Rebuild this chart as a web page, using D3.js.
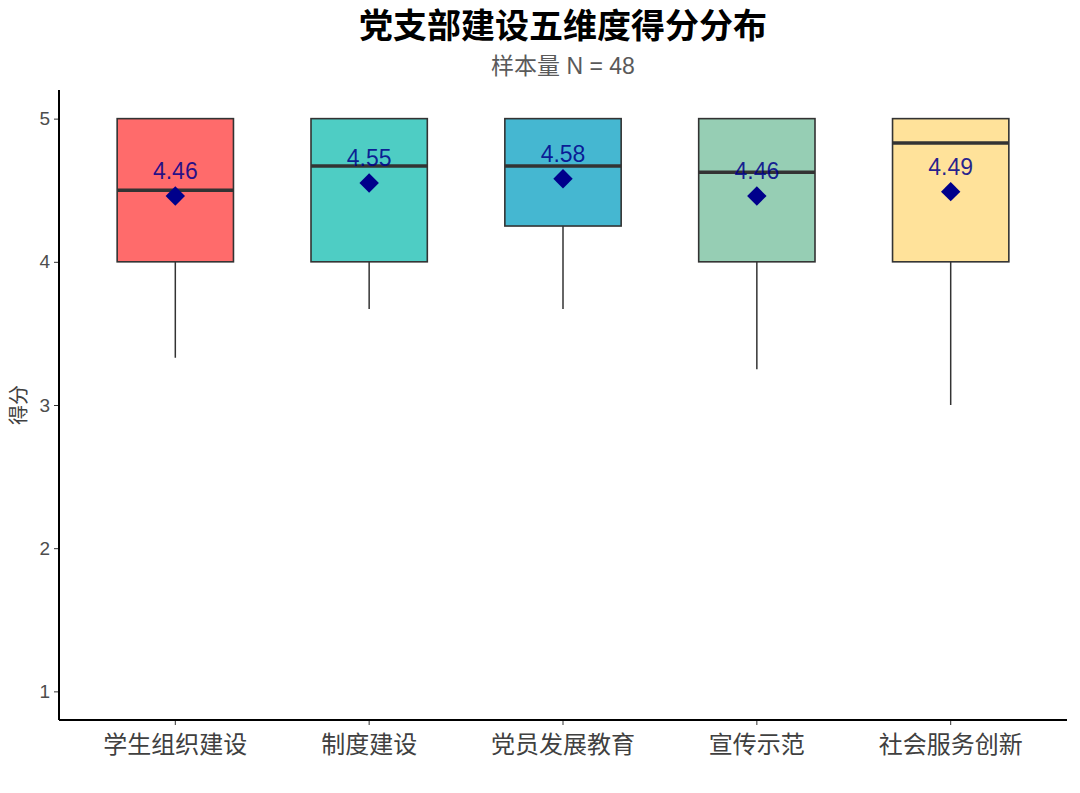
<!DOCTYPE html>
<html>
<head>
<meta charset="utf-8">
<script src="https://cdn.jsdelivr.net/npm/d3@7"></script>
<style>
  body { margin: 0; background: #fff; }
  svg { display: block; }
</style>
</head>
<body>
<svg id="chart" width="1080" height="793"></svg>
<script>
// data
var categories = ["学生组织建设", "制度建设", "党员发展教育", "宣传示范", "社会服务创新"];
var whiskerLow = [3.33, 3.67, 3.67, 3.25, 3.0];
var q1 = [4, 4, 4.25, 4, 4];
var medians = [4.5, 4.67, 4.67, 4.625, 4.83];
var q3 = [5, 5, 5, 5, 5];
var whiskerHigh = [5, 5, 5, 5, 5];
var means = [4.46, 4.55, 4.58, 4.46, 4.49];
var colors = ["#FF6B6B", "#4ECDC4", "#45B7D1", "#96CEB4", "#FFE29A"];
var yTicks = [1, 2, 3, 4, 5];

var svg = d3.select("#chart");
var margin = {left: 59, right: 13, top: 90, bottom: 73};
var width = 1080 - margin.left - margin.right;
var height = 793 - margin.top - margin.bottom;

var rows = categories.map(function(c, i) {
  return {cat: c, lo: whiskerLow[i], q1: q1[i], med: medians[i], q3: q3[i],
          hi: whiskerHigh[i], mean: means[i], color: colors[i]};
});

var x = d3.scaleBand()
    .domain(categories)
    .range([0, width])
    .paddingOuter(0.1)
    .paddingInner(0);
var y = d3.scaleLinear()
    .domain([0.8, 5.2])
    .range([height, 0]);

var g = svg.append("g")
    .attr("transform", "translate(" + margin.left + "," + margin.top + ")");

// title
svg.append("text")
    .attr("x", margin.left + width / 2)
    .attr("y", 38)
    .attr("text-anchor", "middle")
    .style("font-family", "'Noto Sans CJK SC', sans-serif")
    .style("font-weight", "bold")
    .style("font-size", "34px")
    .style("fill", "#000")
    .text("党支部建设五维度得分分布");
svg.append("text")
    .attr("x", margin.left + width / 2)
    .attr("y", 74)
    .attr("text-anchor", "middle")
    .style("font-family", "Arial, 'Liberation Sans', 'Noto Sans CJK SC', sans-serif")
    .style("font-size", "23px")
    .style("fill", "#5a5a5a")
    .text("样本量 N = 48");

// boxes
var boxW = x.bandwidth() * 0.6;
var box = g.selectAll(".box")
    .data(rows)
    .enter().append("g")
    .attr("class", "box")
    .attr("transform", function(d) { return "translate(" + (x(d.cat) + x.bandwidth() / 2) + ",0)"; });

box.append("line")
    .attr("x1", 0).attr("x2", 0)
    .attr("y1", function(d) { return y(d.lo); })
    .attr("y2", function(d) { return y(d.q1); })
    .attr("stroke", "#333").attr("stroke-width", 1.5);
box.append("line")
    .attr("x1", 0).attr("x2", 0)
    .attr("y1", function(d) { return y(d.hi); })
    .attr("y2", function(d) { return y(d.q3); })
    .attr("stroke", "#333").attr("stroke-width", 1.5);
box.append("rect")
    .attr("x", -boxW / 2)
    .attr("width", boxW)
    .attr("y", function(d) { return y(d.q3); })
    .attr("height", function(d) { return y(d.q1) - y(d.q3); })
    .attr("fill", function(d) { return d.color; })
    .attr("stroke", "#333")
    .attr("stroke-width", 1.6);
box.append("line")
    .attr("x1", -boxW / 2).attr("x2", boxW / 2)
    .attr("y1", function(d) { return y(d.med); })
    .attr("y2", function(d) { return y(d.med); })
    .attr("stroke", "#333").attr("stroke-width", 3.5);

// means
box.append("path")
    .attr("d", d3.symbol().type(d3.symbolDiamond2).size(240))
    .attr("transform", function(d) { return "translate(0," + y(d.mean) + ")"; })
    .attr("fill", "#00008B");
box.append("text")
    .attr("y", function(d) { return y(d.mean) - 17; })
    .attr("text-anchor", "middle")
    .style("font-family", "Arial, 'Liberation Sans', sans-serif")
    .style("font-size", "23px")
    .style("fill", "#00008B")
    .style("fill-opacity", 0.85)
    .text(function(d) { return d3.format(".2f")(d.mean); });

// axes
var yAxis = g.append("g")
    .call(d3.axisLeft(y).tickValues(yTicks).tickSize(5).tickPadding(4).tickFormat(d3.format("d")));
yAxis.select(".domain").remove();
yAxis.selectAll(".tick line").attr("stroke", "#333");
yAxis.selectAll("text")
    .style("font-family", "Arial, 'Liberation Sans', sans-serif")
    .style("font-size", "19px")
    .style("fill", "#4d4d4d");

var xAxis = g.append("g")
    .attr("transform", "translate(0," + height + ")")
    .call(d3.axisBottom(x).tickSize(5).tickPadding(4));
xAxis.select(".domain").remove();
xAxis.selectAll(".tick line").attr("stroke", "#333");
xAxis.selectAll("text")
    .attr("dy", "1em")
    .style("font-family", "'Noto Sans CJK SC', sans-serif")
    .style("font-size", "24px")
    .style("fill", "#404040");

g.append("line")
    .attr("x1", 0).attr("x2", 0).attr("y1", 0).attr("y2", height)
    .attr("stroke", "#000").attr("stroke-width", 2);
g.append("line")
    .attr("x1", 0).attr("x2", width).attr("y1", height).attr("y2", height)
    .attr("stroke", "#000").attr("stroke-width", 2);

// y axis title
svg.append("text")
    .attr("transform", "translate(26," + (margin.top + height / 2) + ") rotate(-90)")
    .attr("text-anchor", "middle")
    .style("font-family", "'Noto Sans CJK SC', sans-serif")
    .style("font-size", "20px")
    .style("fill", "#404040")
    .text("得分");
</script>
</body>
</html>
